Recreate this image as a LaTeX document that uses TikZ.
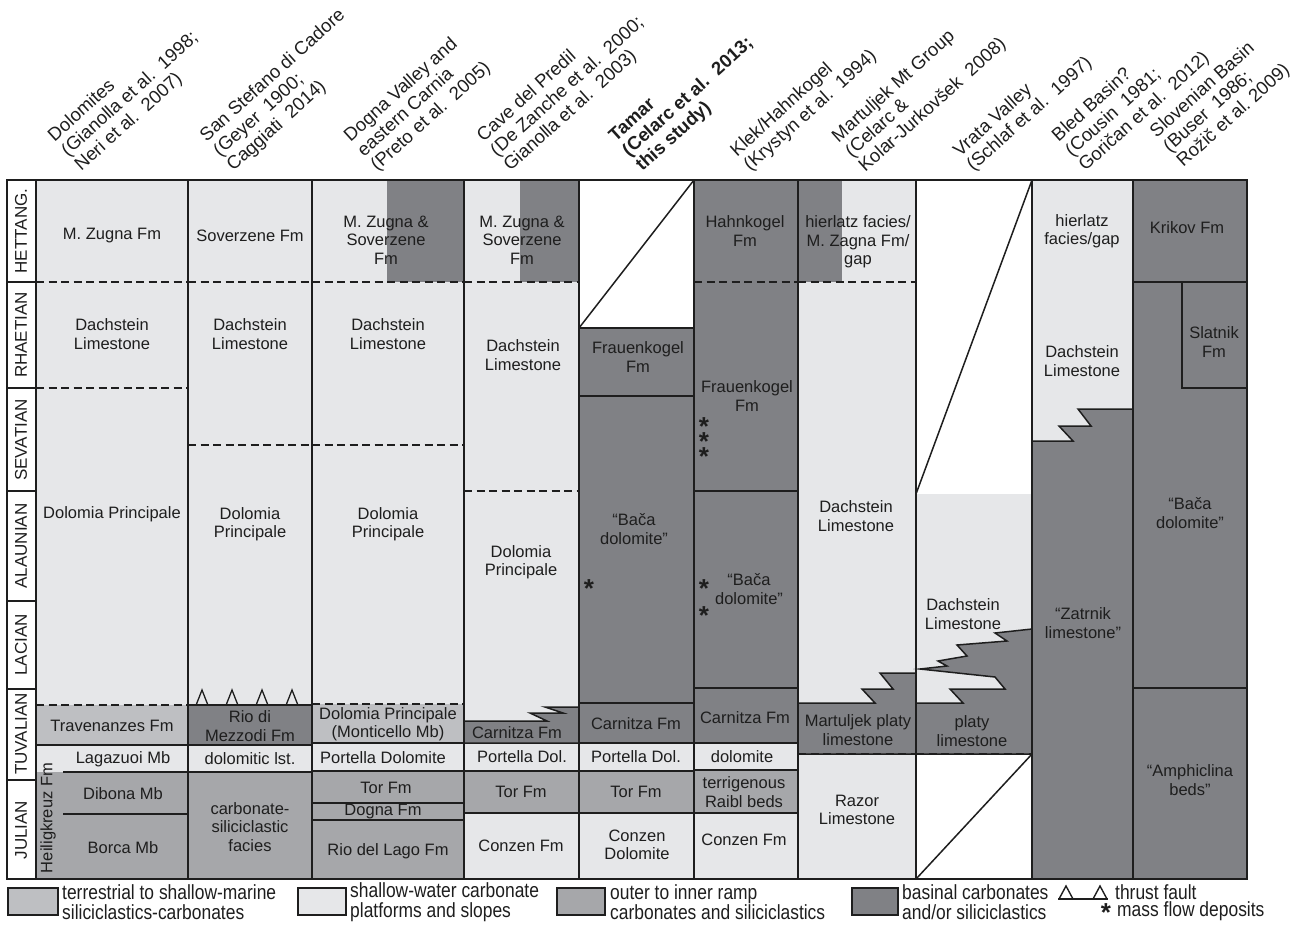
\documentclass[tikz,border=0pt]{standalone}
\usepackage{fontspec}
\setmainfont{Liberation Sans}
\newfontfamily\narrowfont[FakeStretch=0.85]{Liberation Sans}
\definecolor{terr}{HTML}{BEBFC2}
\definecolor{shal}{HTML}{E6E7E9}
\definecolor{ramp}{HTML}{A6A7AA}
\definecolor{basin}{HTML}{808185}
\definecolor{ink}{HTML}{1E1E1E}
\tikzset{
 ln/.style={line width=1.5pt, draw=ink},
 dsh/.style={line width=1.5pt, draw=ink, dash pattern=on 8pt off 4.5pt},
 lbl/.style={align=center, inner sep=0pt, text=ink, font=\fontsize{16.5}{18.5}\selectfont},
 hdr/.style={align=left, inner sep=0pt, rotate=42, anchor=south west, text=ink, font=\fontsize{18.5}{20}\selectfont},
 stg/.style={inner sep=0pt, rotate=90, text=ink, font=\fontsize{17}{19}\selectfont},
 leg/.style={align=left, inner sep=0pt, anchor=west, text=ink, font=\narrowfont\fontsize{20.5}{19.5}\selectfont},
 lbox/.style={line width=1.2pt, draw=ink},
 astr/.style={inner sep=0pt, anchor=base, text=ink, font=\bfseries\fontsize{26}{26}\selectfont},
}
\frenchspacing
\begin{document}
\begin{tikzpicture}[x={(1pt,0pt)}, y={(0pt,-1pt)}]
\useasboundingbox (0,0) rectangle (1306,924);
\fill[white] (0,0) rectangle (1306,924);

% ---------- fills ----------
% col1 Dolomites
\fill[shal] (36,180) rectangle (188,705);
\fill[terr] (36,705) rectangle (188,745);
\fill[shal] (36,745) rectangle (188,772);
\fill[ramp] (36,772) rectangle (188,879);
% col2 San Stefano
\fill[shal] (188,180) rectangle (312,705);
\fill[basin] (188,705) rectangle (312,745);
\fill[shal] (188,745) rectangle (312,772);
\fill[ramp] (188,772) rectangle (312,879);
% col3 Dogna
\fill[shal] (312,180) rectangle (464,704);
\fill[basin] (387,180) rectangle (464,282);
\fill[terr] (312,704) rectangle (464,743);
\fill[shal] (312,743) rectangle (464,771);
\fill[ramp] (312,771) rectangle (464,879);
% col4 Cave del Predil
\fill[shal] (464,180) rectangle (579,743);
\fill[basin] (520,180) rectangle (579,282);
\fill[shal] (464,743) rectangle (579,771);
\fill[ramp] (464,771) rectangle (579,813);
\fill[shal] (464,813) rectangle (579,879);
% col5 Tamar
\fill[basin] (579,328) rectangle (694,743);
\fill[shal] (579,743) rectangle (694,771);
\fill[ramp] (579,771) rectangle (694,813);
\fill[shal] (579,813) rectangle (694,879);
% col6 Klek
\fill[basin] (694,180) rectangle (798,743);
\fill[shal] (694,743) rectangle (798,770);
\fill[ramp] (694,770) rectangle (798,813);
\fill[shal] (694,813) rectangle (798,879);
% col7 Martuljek
\fill[shal] (798,180) rectangle (916,879);
\fill[basin] (798,180) rectangle (842,282);
% col8 Vrata
\fill[shal] (916,494) rectangle (1032,754);
% col9 Bled
\fill[shal] (1032,180) rectangle (1133,879);
% col10 Slovenian Basin
\fill[basin] (1133,180) rectangle (1247,879);

% ---------- interfingering bodies ----------
\draw[ln, fill=basin] (464,721) -- (547,721) -- (530,713) -- (563,713) -- (545,707) -- (579,707) -- (579,743) -- (464,743) -- cycle;
\draw[ln, fill=basin] (798,703) -- (875,703) -- (862,689) -- (893,689) -- (880,673) -- (916,673) -- (916,754) -- (798,754) -- cycle;
\draw[ln, fill=basin] (1032,629) -- (995,633) -- (1007,641) -- (957,645) -- (967,656) -- (938,661) -- (947,666) -- (920,669) -- (995,677) -- (1005,689) -- (950,689) -- (963,703) -- (916,703) -- (916,754) -- (1032,754) -- cycle;
\draw[ln, fill=basin] (1032,441) -- (1073,441) -- (1059,426) -- (1091,426) -- (1078,409) -- (1133,409) -- (1133,879) -- (1032,879) -- cycle;

% ---------- internal lines ----------
% col1
\draw[dsh] (36,282) -- (188,282);
\draw[dsh] (36,388) -- (188,388);
\draw[dsh] (36,705) -- (188,705);
\draw[ln] (36,745) -- (188,745);
\draw[ln] (63,772) -- (188,772);
\draw[ln] (63,814) -- (188,814);
% col2
\draw[dsh] (188,282) -- (312,282);
\draw[dsh] (188,445) -- (312,445);
\draw[ln] (188,705) -- (312,705);
\draw[ln] (188,745) -- (312,745);
\draw[ln] (188,772) -- (312,772);
\foreach \tx in {202,232,262,292}{
  \draw[ln, line width=1.3pt] (\tx-5.5,704) -- (\tx,690) -- (\tx+5.5,704);
}
% col3
\draw[dsh] (312,282) -- (464,282);
\draw[dsh] (312,445) -- (464,445);
\draw[dsh] (312,704) -- (464,704);
\draw[ln] (312,743) -- (464,743);
\draw[ln] (312,771) -- (464,771);
\draw[ln] (312,803) -- (464,803);
\draw[ln] (312,820) -- (464,820);
% col4
\draw[dsh] (464,282) -- (579,282);
\draw[dsh] (464,491) -- (579,491);
\draw[ln] (464,771) -- (579,771);
\draw[ln] (464,813) -- (579,813);
% col5
\draw[ln] (579,328) -- (694,180);
\draw[ln] (579,328) -- (694,328);
\draw[ln] (579,396) -- (694,396);
\draw[ln] (579,703) -- (694,703);
\draw[ln] (579,743) -- (694,743);
\draw[ln] (579,771) -- (694,771);
\draw[ln] (579,813) -- (694,813);
% col6
\draw[dsh] (694,282) -- (798,282);
\draw[ln] (694,491) -- (798,491);
\draw[ln] (694,688) -- (798,688);
\draw[ln] (694,743) -- (798,743);
\draw[ln] (694,770) -- (798,770);
\draw[ln] (694,813) -- (798,813);
% col7
\draw[dsh] (798,282) -- (916,282);
\draw[dsh] (798,754) -- (916,754);
% col8
\draw[ln] (916,494) -- (1032,180);
\draw[dsh] (916,754) -- (1032,754);
\draw[ln] (916,879) -- (1032,754);
% col10
\draw[ln] (1133,282) -- (1247,282);
\draw[ln] (1182,282) -- (1182,388) -- (1247,388);
\draw[ln] (1133,688) -- (1247,688);

% ---------- column outlines ----------
\foreach \xa/\xb in {36/188,188/312,312/464,464/579,579/694,694/798,798/916,916/1032,1032/1133,1133/1247}{
  \draw[ln] (\xa,180) rectangle (\xb,879);
}
% stage column
\foreach \ya/\yb in {180/282,282/388,388/491,491/601,601/689,689/780,780/879}{
  \draw[ln] (7,\ya) rectangle (36,\yb);
}
\node[stg] (sHet) at (21,231) {HETTANG.};
\node[stg] (sRha) at (21,335) {RHAETIAN};
\node[stg] (sSev) at (21,440) {SEVATIAN};
\node[stg] (sAla) at (21,546) {ALAUNIAN};
\node[stg] (sLac) at (21,645) {LACIAN};
\node[stg] (sTuv) at (21,734) {TUVALIAN};
\node[stg] (sJul) at (21,830) {JULIAN};

% ---------- headers ----------
\node[hdr] (h1) at (84,175) {Dolomites\\(Gianolla et al.\ \ 1998;\\Neri et al.\ \ 2007)};
\node[hdr] (h2) at (236,175) {San Stefano di Cadore\\(Geyer\ \ 1900;\\Caggiati\ \ 2014)};
\node[hdr] (h3) at (380,175) {Dogna Valley and\\eastern Carnia\\(Preto et al.\ \ 2005)};
\node[hdr] (h4) at (513,175) {Cave del Predil\\(De Zanche et al.\ \ 2000;\\Gianolla et al.\ \ 2003)};
\node[hdr, font=\bfseries\fontsize{18.5}{20}\selectfont] (h5) at (645,175) {Tamar\\(Celarc et al.\ \ 2013;\\this study)};
\node[hdr] (h6) at (753,175) {Klek/Hahnkogel\\(Krystyn et al.\ \ 1994)};
\node[hdr] (h7) at (868,176) {Martuljek Mt Group\\(Celarc \&\\Kolar-Jurkovšek\ \ 2008)};
\node[hdr] (h8) at (976,175) {Vrata Valley\\(Schlaf et al.\ \ 1997)};
\node[hdr] (h9) at (1088,175) {Bled Basin?\\(Cousin\ \ 1981;\\Goričan et al.\ \ 2012)};
\node[hdr] (h10) at (1186,171) {Slovenian Basin\\(Buser\ \ 1986;\\Rožič et al. 2009)};

% ---------- cell labels ----------
% col1
\node[lbl] (a1) at (112,236) {M. Zugna Fm};
\node[lbl] (a2) at (112,334) {Dachstein\\Limestone};
\node[lbl] (a3) at (112,514) {Dolomia Principale};
\node[lbl] (a4) at (112,726) {Travenanzes Fm};
\node[lbl] (a5) at (123,759) {Lagazuoi Mb};
\node[lbl] (a6) at (123,794) {Dibona Mb};
\node[lbl] (a7) at (123,848) {Borca Mb};
\node[lbl, rotate=90] (a8) at (48,818) {Heiligkreuz Fm};
% col2
\node[lbl] (b1) at (250,236) {Soverzene Fm};
\node[lbl] (b2) at (250,334) {Dachstein\\Limestone};
\node[lbl] (b3) at (250,524) {Dolomia\\Principale};
\node[lbl] (b4) at (250,726) {Rio di\\Mezzodi Fm};
\node[lbl] (b5) at (250,759) {dolomitic lst.};
\node[lbl] (b6) at (250,827) {carbonate-\\siliciclastic\\facies};
% col3
\node[lbl] (c1) at (386,240) {M. Zugna \&\\Soverzene\\Fm};
\node[lbl] (c2) at (388,334) {Dachstein\\Limestone};
\node[lbl] (c3) at (388,524) {Dolomia\\Principale};
\node[lbl] (c4) at (388,724) {Dolomia Principale\\(Monticello Mb)};
\node[lbl] (c5) at (383,758) {Portella Dolomite};
\node[lbl] (c6) at (386,788) {Tor Fm};
\node[lbl] (c7) at (383,812) {Dogna Fm};
\node[lbl] (c8) at (388,851) {Rio del Lago Fm};
% col4
\node[lbl] (d1) at (522,240) {M. Zugna \&\\Soverzene\\Fm};
\node[lbl] (d2) at (523,355) {Dachstein\\Limestone};
\node[lbl] (d3) at (521,562) {Dolomia\\Principale};
\node[lbl] (d4) at (517,733) {Carnitza Fm};
\node[lbl] (d5) at (522,757) {Portella Dol.};
\node[lbl] (d6) at (521,792) {Tor Fm};
\node[lbl] (d7) at (521,846) {Conzen Fm};
% col5
\node[lbl] (e1) at (638,357) {Frauenkogel\\Fm};
\node[lbl] (e2) at (634,529) {“Bača\\dolomite”};
\node[lbl] (e3) at (636,724) {Carnitza Fm};
\node[lbl] (e4) at (636,757) {Portella Dol.};
\node[lbl] (e5) at (636,792) {Tor Fm};
\node[lbl] (e6) at (637,845) {Conzen\\Dolomite};
\node[astr] (m1) at (589,597) {*};
% col6
\node[lbl] (f1) at (745,231) {Hahnkogel\\Fm};
\node[lbl] (f2) at (747,396) {Frauenkogel\\Fm};
\node[lbl] (f3) at (749,589) {“Bača\\dolomite”};
\node[lbl] (f4) at (745,718) {Carnitza Fm};
\node[lbl] (f5) at (742,757) {dolomite};
\node[lbl] (f6) at (744,792) {terrigenous\\Raibl beds};
\node[lbl] (f7) at (744,840) {Conzen Fm};
\node[astr] (m2) at (704,435) {*};
\node[astr] (m3) at (704,450) {*};
\node[astr] (m4) at (704,465) {*};
\node[astr] (m5) at (704,597) {*};
\node[astr] (m6) at (704,624) {*};
% col7
\node[lbl] (g1) at (858,242) {hierlatz facies/\\M. Zagna Fm/\\gap};
\node[lbl] (g2) at (856,516) {Dachstein\\Limestone};
\node[lbl] (g3) at (858,730) {Martuljek platy\\limestone};
\node[lbl] (g4) at (857,810) {Razor\\Limestone};
% col8
\node[lbl] (k1) at (963,614) {Dachstein\\Limestone};
\node[lbl] (k2) at (972,731) {platy\\limestone};
% col9
\node[lbl] (n1) at (1082,231) {hierlatz\\facies/gap};
\node[lbl] (n2) at (1082,361) {Dachstein\\Limestone};
\node[lbl] (n3) at (1083,623) {“Zatrnik\\limestone”};
% col10
\node[lbl] (p1) at (1187,228) {Krikov Fm};
\node[lbl] (p2) at (1214,342) {Slatnik\\Fm};
\node[lbl] (p3) at (1190,513) {“Bača\\dolomite”};
\node[lbl] (p4) at (1190,780) {“Amphiclina\\beds”};

% ---------- legend ----------
\draw[lbox, fill=terr] (8,888) rectangle (58,915);
\node[leg] (l1) at (62,902) {terrestrial to shallow-marine\\siliciclastics-carbonates};
\draw[lbox, fill=shal] (298,888) rectangle (346,915);
\node[leg] (l2) at (350,902) {shallow-water carbonate\\platforms and slopes};
\draw[lbox, fill=ramp] (557,888) rectangle (605,915);
\node[leg] (l3) at (610,902) {outer to inner ramp\\carbonates and siliciclastics};
\draw[lbox, fill=basin] (852,888) rectangle (898,915);
\node[leg] (l4) at (902,902) {basinal carbonates\\and/or siliciclastics};
\draw[ln, line width=1.4pt] (1058,899) -- (1108,899);
\draw[ln, line width=1.4pt] (1059,899) -- (1066,886) -- (1073,899);
\draw[ln, line width=1.4pt] (1093,899) -- (1100,886) -- (1107,899);
\node[leg] (l5) at (1115,892) {thrust fault};
\node[astr] (l6) at (1106,921) {*};
\node[leg] (l7) at (1117,911) {mass flow deposits};
\end{tikzpicture}
\end{document}
